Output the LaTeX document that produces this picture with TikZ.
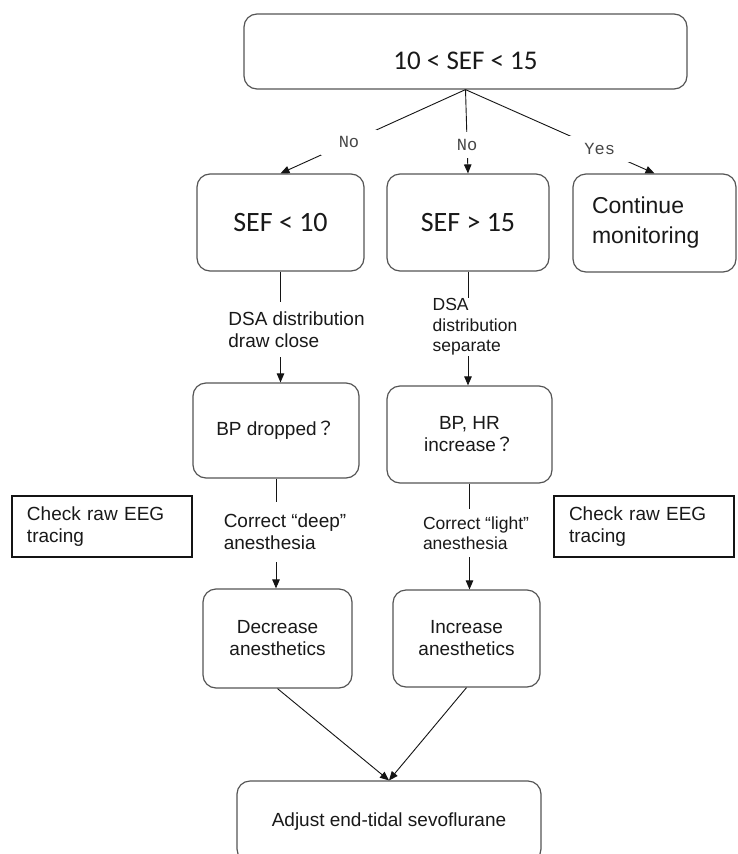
\documentclass[tikz,border=0pt]{standalone}
\usepackage{fontspec}
\setmainfont{Liberation Sans}
\newfontfamily\sefface{Carlito}
\newfontfamily\monoface{Liberation Mono}
\newfontfamily\cjkface{Noto Sans CJK JP}
\usetikzlibrary{
  arrows.meta
}
\definecolor{boxcolor}{RGB}{85, 85, 85}
\definecolor{linecolor}{RGB}{20, 20, 20}
\definecolor{textcolor}{RGB}{25, 25, 25}
\definecolor{tagcolor}{RGB}{70, 70, 70}
\newcommand{\boxfont}{\fontsize{19}{22}\selectfont}
\newcommand{\sidefont}{\fontsize{17.5}{20.5}\selectfont}
\newcommand{\seffont}{\sefface\fontsize{28}{32}\selectfont}
\newcommand{\tagfont}{\monoface\fontsize{17}{20}\selectfont}
\tikzset{
flowbox/.style={
  draw=boxcolor,
  line width=1.2pt,
  rounded corners=13pt,
  align=center,
  font=\boxfont,
  text=textcolor
},
sefbox/.style={
  flowbox,
  font=\seffont
},
notebox/.style={
  draw=linecolor,
  line width=1.1pt,
  align=left,
  text width=150pt,
  font=\boxfont,
  text=textcolor
},
branchtag/.style={
  fill=white,
  inner xsep=18pt,
  inner ysep=7pt,
  font=\tagfont,
  text=tagcolor
},
steplabel/.style={
  fill=white,
  align=left,
  inner xsep=2pt,
  font=\boxfont,
  text=textcolor
},
connector/.style={
  draw=linecolor,
  line width=0.9pt
},
arrow/.style={
  connector,
  -{Triangle[length=9pt,width=7.5pt]}
}
}

\begin{document}
\begin{tikzpicture}[x=1pt, y=-1pt]
  \useasboundingbox (0,0) rectangle (737,854);
  \fill[white] (0,0) rectangle (737,854);
  \clip (0,0) rectangle (737,854);

  % --- decision ---
  \node[sefbox, font=\sefface\fontsize{27}{32}\selectfont, minimum width=443pt, minimum height=75pt,
        text height=36pt, text depth=0pt] (top) at (465.5,51.5) {10 < SEF < 15};

  % --- first row ---
  \node[sefbox, minimum width=167pt, minimum height=97pt] (sef10) at (280.5,222.5) {SEF < 10};
  \node[sefbox, minimum width=162pt, minimum height=97pt] (sef15) at (468,222.5) {SEF > 15};
  \node[flowbox, font=\fontsize{23}{30}\selectfont, align=left, text width=125pt,
        minimum width=163pt, minimum height=98pt] (cont) at (654.5,223) {Continue\\monitoring};

  \draw[arrow] (top.south) -- node[branchtag, pos=0.63] (nol) {No} (sef10.north);
  \draw[arrow] (top.south) -- node[branchtag, pos=0.66] (nom) {No} (sef15.north);
  \draw[arrow] (top.south) -- node[branchtag, pos=0.71] (yes) {Yes} (cont.north);

  % --- second row ---
  \node[flowbox, minimum width=166pt, minimum height=95pt] (bpd) at (276,430.5)
    {BP dropped{\cjkface ？}};
  \node[flowbox, minimum width=165pt, minimum height=97pt] (bphr) at (469.5,434.5)
    {BP, HR\\increase{\cjkface ？}};

  \draw[arrow] (sef10.south) -- (sef10.south |- bpd.north);
  \node[steplabel, minimum height=55pt] (dsal) at (296.5,329.5) {DSA distribution\\draw close};
  \draw[arrow] (sef15.south) -- (sef15.south |- bphr.north);
  \node[steplabel, font=\sidefont, inner ysep=1pt] (dsar) at (475,327) {DSA\\distribution\\separate};

  % --- raw EEG notes ---
  \node[notebox, minimum width=180pt, minimum height=61pt] (eegl) at (102,526.5) {Check raw EEG\\tracing};
  \node[notebox, minimum width=180pt, minimum height=61pt] (eegr) at (644,526.5) {Check raw EEG\\tracing};

  % --- third row ---
  \node[flowbox, minimum width=149pt, minimum height=99pt] (dec) at (277.5,638.5) {Decrease\\anesthetics};
  \node[flowbox, minimum width=147pt, minimum height=97pt] (inc) at (466.5,638.5) {Increase\\anesthetics};

  \draw[arrow] (bpd.south) -- (bpd.south |- dec.north);
  \node[steplabel, minimum height=60pt] (corl) at (285,532) {Correct “deep”\\anesthesia};
  \draw[arrow] (bphr.south) -- (bphr.south |- inc.north);
  \node[steplabel, font=\sidefont, minimum height=48pt] (corr) at (476,533) {Correct “light”\\anesthesia};

  % --- adjust ---
  \node[flowbox, minimum width=304pt, minimum height=81pt] (adj) at (389,821.5) {Adjust end-tidal sevoflurane};
  \draw[arrow] (dec.south) -- (adj.north);
  \draw[arrow] (inc.south) -- (adj.north);
\end{tikzpicture}
\end{document}
